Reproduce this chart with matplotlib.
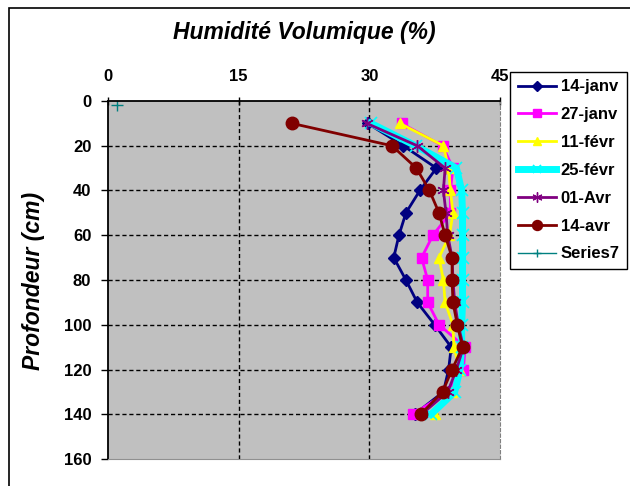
import matplotlib
matplotlib.use("Agg")
import matplotlib.pyplot as plt
from matplotlib.patches import Rectangle

plt.rcParams['font.family'] = ['Liberation Sans', 'DejaVu Sans']

# profondeur (cm)
depth = [10, 20, 30, 40, 50, 60, 70, 80, 90, 100, 110, 120, 130, 140]

# humidité volumique (%)
janv14 = [29.8, 33.9, 37.7, 35.8, 34.2, 33.4, 32.8, 34.2, 35.5, 37.5, 39.4, 39.1, 38.5, 35.2]
janv27 = [33.7, 38.4, 39.6, 39.3, 39.3, 37.3, 36.0, 36.7, 36.7, 38.0, 41.0, 40.8, 39.0, 35.0]
fevr11 = [33.5, 38.5, 39.1, 39.3, 39.6, 39.2, 38.0, 38.5, 38.7, 39.6, 39.7, 40.4, 39.5, 37.5]
fevr25 = [30.2, 35.3, 40.0, 40.6, 40.7, 40.7, 40.7, 40.7, 40.7, 40.6, 40.6, 40.4, 39.8, 37.1]
avr01 = [29.7, 35.5, 38.7, 38.5, 38.8, 39.0, 39.5, 39.6, 39.8, 40.2, 40.8, 40.0, 39.0, 36.0]
avr14 = [21.1, 32.6, 35.4, 36.9, 38.0, 38.7, 39.5, 39.5, 39.6, 40.1, 40.7, 39.5, 38.4, 35.9]
series7_x = [1]
series7_y = [2]

x_ticks = [0, 15, 30, 45]
y_ticks = [0, 20, 40, 60, 80, 100, 120, 140, 160]

fig = plt.figure(figsize=(6.3, 4.86), dpi=100)
W, H = 630, 486
# cadre de la zone graphique
fig.patches.append(Rectangle((9 / W, -0.1), 1.0, 1 - 8 / H + 0.1,
                             transform=fig.transFigure, fill=False,
                             edgecolor='black', linewidth=1.2))

ax = fig.add_axes([108 / W, 1 - 459 / H, 392 / W, 358 / H])
ax.set_facecolor('#C0C0C0')

ax.plot(janv14, depth, '-D', color='#000080', lw=2, ms=6, label='14-janv')
ax.plot(janv27, depth, '-s', color='#FF00FF', lw=2, ms=7, label='27-janv')
ax.plot(fevr11, depth, '-^', color='#FFFF00', lw=2, ms=7, label='11-févr')
ax.plot(fevr25, depth, '-x', color='#00FFFF', lw=5, ms=8, mew=1.2, label='25-févr')
ax.plot(avr01, depth, '-', marker=(6, 2, 0), color='#800080', lw=2, ms=9, mew=1,
        label='01-Avr')
ax.plot(avr14, depth, '-o', color='#800000', lw=2, ms=9, label='14-avr')
ax.plot(series7_x, series7_y, '-+', color='#008080', lw=1, ms=8, mew=1, label='Series7')

ax.set_xlim(0, 45)
ax.set_ylim(160, 0)
ax.set_xticks(x_ticks)
ax.set_yticks(y_ticks)
ax.xaxis.tick_top()
ax.tick_params(axis='x', direction='inout', length=6, width=1, pad=9,
               labelsize=12)
ax.tick_params(axis='y', direction='out', length=5, width=1, pad=7,
               labelsize=12)
for lab in ax.get_xticklabels() + ax.get_yticklabels():
    lab.set_fontweight('bold')

for v in [15, 30]:
    ax.axvline(v, color='black', lw=1, ls=(0, (3, 2)), zorder=1)
for v in y_ticks[1:-1]:
    ax.axhline(v, color='black', lw=1, ls=(0, (3, 2)), zorder=1)

ax.spines['top'].set_color('black')
ax.spines['top'].set_linewidth(1.3)
ax.spines['left'].set_color('black')
ax.spines['left'].set_linewidth(1.3)
ax.spines['right'].set_color('#808080')
ax.spines['right'].set_linestyle((0, (3, 2)))
ax.spines['bottom'].set_color('#909090')

fig.text(304 / W, 1 - 33 / H, 'Humidité Volumique (%)', ha='center', va='center',
         fontsize=16.5, fontweight='bold', style='italic')
fig.text(34 / W, 1 - 281 / H, 'Profondeur (cm)', ha='center', va='center',
         rotation=90, fontsize=16.5, fontweight='bold', style='italic')

leg = ax.legend(loc='upper left', bbox_to_anchor=(510 / W, 1 - 72 / H),
                bbox_transform=fig.transFigure, frameon=True, fancybox=False,
                edgecolor='black', framealpha=1, fontsize=12, labelspacing=0.77,
                handlelength=2.3, handletextpad=0.3, borderpad=0.45,
                borderaxespad=0, markerscale=0.8)
leg.get_frame().set_linewidth(1)
for t in leg.get_texts():
    t.set_fontweight('bold')

fig.savefig('out.png', dpi=100)
